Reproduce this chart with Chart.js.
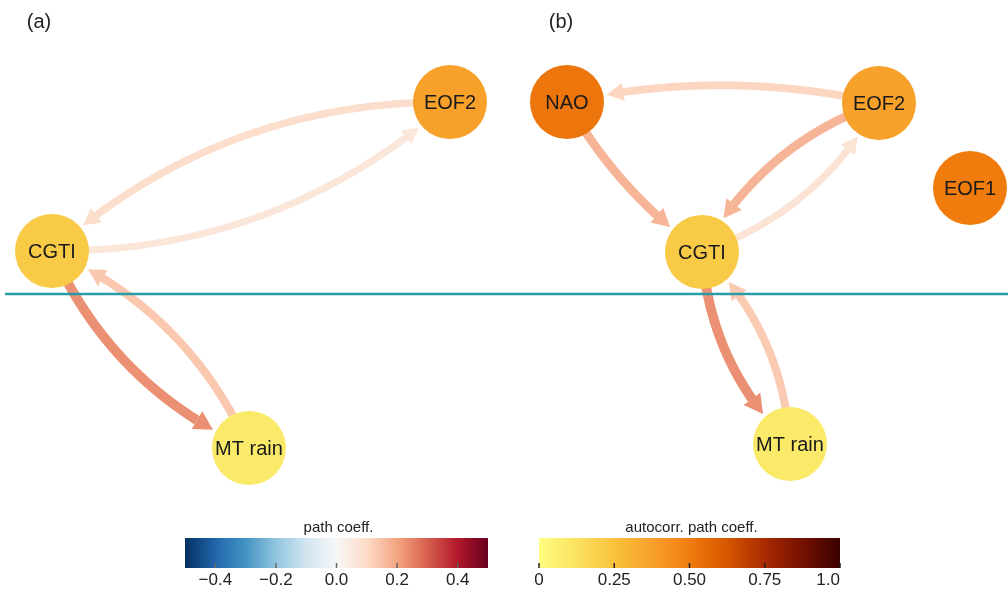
<!DOCTYPE html>
<html>
<head>
<meta charset="utf-8">
<script src="https://cdn.jsdelivr.net/npm/chart.js@4.4.1/dist/chart.umd.min.js"></script>
<style>
  html, body { margin: 0; padding: 0; background: #ffffff; }
  #wrap { width: 1008px; height: 592px; position: relative; }
</style>
</head>
<body>
<div id="wrap"><canvas id="net"></canvas></div>
<script>
// ---- Panel (a): network of path coefficients ----
const nodesA = ['CGTI', 'EOF2', 'MT rain'];
const nodesAX = [0.52, 4.50, 2.49];
const nodesAY = [2.51, 1.02, 4.48];
const nodesAAutocorr = [0.22, 0.38, 0.09];
const edgesAFrom = ['EOF2', 'CGTI', 'CGTI', 'MT rain'];
const edgesATo = ['CGTI', 'EOF2', 'MT rain', 'CGTI'];
const edgesACoef = [0.09, 0.06, 0.23, 0.135];

// ---- Panel (b) ----
const nodesB = ['NAO', 'EOF2', 'EOF1', 'CGTI', 'MT rain'];
const nodesBX = [5.67, 8.79, 9.70, 7.02, 7.90];
const nodesBY = [1.02, 1.03, 1.88, 2.52, 4.44];
const nodesBAutocorr = [0.52, 0.38, 0.50, 0.22, 0.09];
const edgesBFrom = ['EOF2', 'NAO', 'EOF2', 'CGTI', 'CGTI', 'MT rain'];
const edgesBTo = ['NAO', 'CGTI', 'CGTI', 'EOF2', 'MT rain', 'CGTI'];
const edgesBCoef = [0.11, 0.17, 0.17, 0.07, 0.23, 0.13];

// ---- Divider and colour bar ticks ----
const dividerY = 2.94;
const panelTags = ['(a)', '(b)'];
const pathTicks = [-0.4, -0.2, 0.0, 0.2, 0.4];
const pathTickLabels = ['\u22120.4', '\u22120.2', '0.0', '0.2', '0.4'];
const pathRange = [-0.5, 0.5];
const autoTicks = [0, 0.25, 0.5, 0.75, 1.0];
const autoTickLabels = ['0', '0.25', '0.50', '0.75', '1.0'];
const autoRange = [0, 1.0];

// ---- Colour maps ----
const rdbu = ['#053061','#2166ac','#4393c3','#92c5de','#d1e5f0','#f7f7f7',
              '#fddbc7','#f4a582','#d6604d','#b2182b','#67001f'];
const heat = [[0,'#fffc80'],[0.1,'#fbe867'],[0.25,'#f9c23e'],[0.38,'#f7a02a'],
              [0.5,'#f07c0e'],[0.62,'#d85800'],[0.75,'#a82a00'],[0.88,'#741000'],[1,'#3a0000']];

function hex2rgb(h) { return [1,3,5].map(i => parseInt(h.substr(i,2),16)); }
function mix(a, b, t) {
  const A = hex2rgb(a), B = hex2rgb(b);
  return 'rgb(' + A.map((v,i) => Math.round(v + (B[i]-v)*t)).join(',') + ')';
}
function rdbuColor(v) {
  let f = (v - pathRange[0]) / (pathRange[1] - pathRange[0]);
  f = Math.max(0, Math.min(1, f)) * (rdbu.length - 1);
  const i = Math.min(rdbu.length - 2, Math.floor(f));
  return mix(rdbu[i], rdbu[i+1], f - i);
}
function heatColor(v) {
  v = Math.max(0, Math.min(1, v));
  for (let i = 0; i < heat.length - 1; i++) {
    if (v <= heat[i+1][0]) {
      return mix(heat[i][1], heat[i+1][1], (v - heat[i][0]) / (heat[i+1][0] - heat[i][0]));
    }
  }
  return heat[heat.length-1][1];
}

const NODE_R = 37;
const FONT = '"Liberation Sans", Arial, sans-serif';

const panels = [
  { names: nodesA, xs: nodesAX, ys: nodesAY, from: edgesAFrom, to: edgesATo, coef: edgesACoef },
  { names: nodesB, xs: nodesBX, ys: nodesBY, from: edgesBFrom, to: edgesBTo, coef: edgesBCoef }
];

const nodePoints = [], nodeColors = [], nodeLabels = [];
nodesA.forEach((n,i) => { nodePoints.push({x: nodesAX[i], y: nodesAY[i]}); nodeColors.push(heatColor(nodesAAutocorr[i])); nodeLabels.push(n); });
nodesB.forEach((n,i) => { nodePoints.push({x: nodesBX[i], y: nodesBY[i]}); nodeColors.push(heatColor(nodesBAutocorr[i])); nodeLabels.push(n); });

function bez(p0, c, p1, t) {
  const u = 1 - t;
  return { x: u*u*p0.x + 2*u*t*c.x + t*t*p1.x, y: u*u*p0.y + 2*u*t*c.y + t*t*p1.y };
}
function dist(a, b) { return Math.hypot(a.x - b.x, a.y - b.y); }

function drawEdge(ctx, p0, p1, coef, paired) {
  const dx = p1.x - p0.x, dy = p1.y - p0.y, len = Math.hypot(dx, dy);
  // mutual links bow apart more than one-way links
  const k = paired ? 0.19 : 0.11;
  // arcs bend to the right of the direction of travel
  const c = { x: (p0.x + p1.x)/2 - dy/len * k * len, y: (p0.y + p1.y)/2 + dx/len * k * len };
  const N = 400, pts = [];
  for (let i = 0; i <= N; i++) pts.push(bez(p0, c, p1, i/N));
  let s = 0; while (s < N && dist(pts[s], p0) < NODE_R - 2) s++;
  let e = N; while (e > 0 && dist(pts[e], p1) < NODE_R + 3) e--;
  const w = 6 + 16 * Math.abs(coef);
  const headLen = 9 + w, headHalf = 4.5 + 0.6 * w;
  const tip = pts[e];
  let b = e; while (b > s && dist(pts[b], tip) < headLen) b--;
  const base = pts[b];
  const ux = (tip.x - base.x) / dist(tip, base), uy = (tip.y - base.y) / dist(tip, base);
  const col = rdbuColor(coef);
  ctx.save();
  ctx.strokeStyle = col; ctx.fillStyle = col;
  ctx.lineWidth = w; ctx.lineCap = 'butt'; ctx.lineJoin = 'round';
  ctx.beginPath();
  ctx.moveTo(pts[s].x, pts[s].y);
  for (let i = s + 1; i <= b + 1 && i <= e; i++) ctx.lineTo(pts[i].x, pts[i].y);
  ctx.stroke();
  const bx = tip.x - ux * headLen, by = tip.y - uy * headLen;
  ctx.beginPath();
  ctx.moveTo(tip.x, tip.y);
  ctx.lineTo(bx - uy * headHalf, by + ux * headHalf);
  ctx.lineTo(bx + uy * headHalf, by - ux * headHalf);
  ctx.closePath();
  ctx.fill();
  ctx.restore();
}

function drawColorbar(ctx, x0, x1, y0, y1, range, colorFn, ticks, labels, title, tickColor) {
  const g = ctx.createLinearGradient(x0, 0, x1, 0);
  for (let i = 0; i <= 50; i++) {
    const v = range[0] + (range[1] - range[0]) * i / 50;
    g.addColorStop(i / 50, colorFn(v));
  }
  ctx.fillStyle = g;
  ctx.fillRect(x0, y0, x1 - x0, y1 - y0);
  ctx.fillStyle = '#222';
  ctx.font = '15px ' + FONT;
  ctx.textAlign = 'center'; ctx.textBaseline = 'middle';
  ctx.fillText(title, (x0 + x1) / 2 + 2, y0 - 10);
  ctx.font = '17px ' + FONT;
  ticks.forEach((t, i) => {
    const px = x0 + (t - range[0]) / (range[1] - range[0]) * (x1 - x0);
    ctx.strokeStyle = tickColor; ctx.lineWidth = 1.5;
    ctx.beginPath(); ctx.moveTo(px, y1); ctx.lineTo(px, y1 - 5); ctx.stroke();
    const tw = ctx.measureText(labels[i]).width;
    let lx = Math.min(px, x1 - tw / 2);
    ctx.fillStyle = '#222';
    ctx.fillText(labels[i], lx, y1 + 12);
  });
}

const graphPlugin = {
  id: 'graph',
  beforeDatasetsDraw(chart) {
    const ctx = chart.ctx, xs = chart.scales.x, ys = chart.scales.y;
    panels.forEach(p => {
      const pos = name => {
        const i = p.names.indexOf(name);
        return { x: xs.getPixelForValue(p.xs[i]), y: ys.getPixelForValue(p.ys[i]) };
      };
      p.from.forEach((f, i) => {
        const t = p.to[i];
        const paired = p.from.some((g, j) => g === t && p.to[j] === f);
        drawEdge(ctx, pos(f), pos(t), p.coef[i], paired);
      });
    });
  },
  afterDatasetsDraw(chart) {
    const ctx = chart.ctx;
    const meta = chart.getDatasetMeta(0);
    ctx.save();
    ctx.fillStyle = '#1a1a1a';
    ctx.font = '20px ' + FONT;
    ctx.textAlign = 'center'; ctx.textBaseline = 'middle';
    meta.data.forEach((el, i) => ctx.fillText(nodeLabels[i], el.x, el.y + 1));
    ctx.font = '20px ' + FONT;
    ctx.fillStyle = '#222';
    ctx.fillText(panelTags[0], 39, 22);
    ctx.fillText(panelTags[1], 561, 22);
    drawColorbar(ctx, 185, 488, 538, 568, pathRange, rdbuColor, pathTicks, pathTickLabels, 'path coeff.', '#666');
    drawColorbar(ctx, 539, 840, 538, 568, autoRange, heatColor, autoTicks, autoTickLabels, 'autocorr. path coeff.', '#222');
    ctx.restore();
  }
};

new Chart(document.getElementById('net'), {
  type: 'scatter',
  data: {
    datasets: [
      {
        type: 'scatter',
        data: nodePoints,
        backgroundColor: nodeColors,
        borderWidth: 0,
        pointRadius: NODE_R,
        pointHoverRadius: NODE_R,
        clip: false,
        order: 0
      },
      {
        type: 'line',
        data: [{x: 0.05, y: dividerY}, {x: 10.08, y: dividerY}],
        borderColor: '#2b9aa8',
        borderWidth: 2.5,
        pointRadius: 0,
        clip: false,
        order: 1
      }
    ]
  },
  options: {
    responsive: true,
    maintainAspectRatio: false,
    animation: false,
    layout: { padding: 0, autoPadding: false },
    plugins: { legend: { display: false }, tooltip: { enabled: false } },
    scales: {
      x: { type: 'linear', min: 0, max: 10.08, display: false },
      y: { type: 'linear', min: 0, max: 5.92, reverse: true, display: false }
    }
  },
  plugins: [graphPlugin]
});
</script>
</body>
</html>
